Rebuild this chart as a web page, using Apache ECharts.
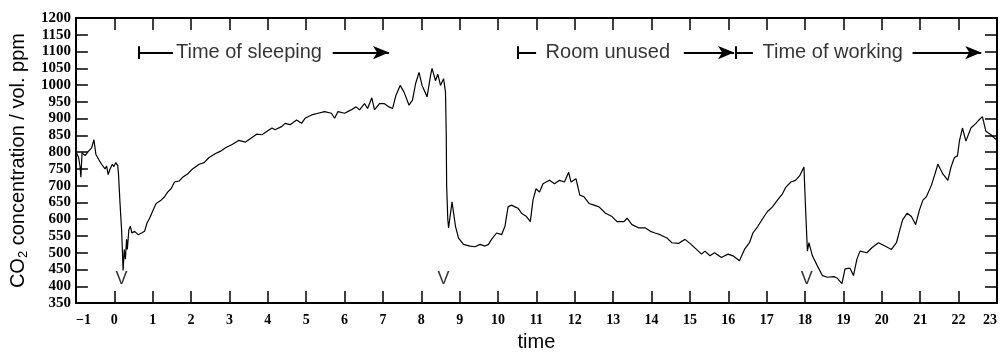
<!DOCTYPE html>
<html>
<head>
<meta charset="utf-8">
<script src="https://cdn.jsdelivr.net/npm/echarts@6/dist/echarts.min.js"></script>
<style>
html,body{margin:0;padding:0;background:#fff;}
#chart{width:1000px;height:357px;}
</style>
</head>
<body>
<div id="chart"></div>
<script>
// CO2 readings: [time (h), concentration (vol. ppm)]
const co2Readings = [
  [-0.99,800],[-0.93,784],[-0.89,755],[-0.87,725],[-0.84,798],[-0.76,790],[-0.67,803],[-0.59,813],[-0.53,837],
  [-0.48,794],[-0.41,779],[-0.33,764],[-0.24,750],[-0.20,759],[-0.16,733],[-0.11,750],[-0.05,764],[-0.01,757],
  [0.04,769],[0.09,760],[0.11,735],[0.15,647],[0.19,569],[0.21,510],[0.23,447],[0.26,510],[0.29,481],[0.32,540],
  [0.34,510],[0.38,569],[0.42,579],[0.46,559],[0.53,564],[0.62,554],[0.71,559],[0.79,564],[0.85,588],[0.92,603],
  [1.01,627],[1.09,647],[1.22,657],[1.31,667],[1.39,681],[1.48,691],[1.57,711],[1.69,714],[1.78,725],[1.91,735],
  [2.04,750],[2.21,764],[2.34,769],[2.47,784],[2.64,796],[2.77,803],[2.90,813],[3.07,823],[3.24,835],[3.42,830],
  [3.59,844],[3.72,854],[3.85,852],[3.98,862],[4.11,872],[4.19,867],[4.37,877],[4.45,886],[4.58,882],[4.75,896],
  [4.88,886],[4.97,901],[5.14,911],[5.31,916],[5.48,921],[5.66,916],[5.74,901],[5.83,921],[6.00,916],[6.17,926],
  [6.30,935],[6.39,926],[6.52,945],[6.60,930],[6.71,962],[6.78,926],[6.91,945],[7.03,945],[7.16,935],[7.25,930],
  [7.34,970],[7.45,999],[7.55,979],[7.68,940],[7.77,955],[7.85,1004],[7.94,1038],[8.02,999],[8.15,965],[8.24,1028],
  [8.28,1050],[8.37,1013],[8.43,1033],[8.50,999],[8.58,1019],[8.63,979],[8.65,850],[8.66,700],[8.69,600],[8.71,574],
  [8.80,652],[8.89,579],[8.97,544],[9.10,525],[9.27,520],[9.40,518],[9.53,525],[9.66,520],[9.75,525],[9.83,540],
  [9.96,559],[10.09,554],[10.18,579],[10.26,637],[10.35,642],[10.44,637],[10.52,633],[10.61,618],[10.74,608],[10.84,593],
  [10.91,657],[10.99,691],[11.08,681],[11.17,706],[11.34,716],[11.47,706],[11.60,716],[11.73,711],[11.84,740],[11.90,711],
  [12.03,721],[12.13,672],[12.24,667],[12.37,647],[12.50,642],[12.63,637],[12.80,618],[12.97,608],[13.10,593],[13.28,593],
  [13.36,603],[13.49,584],[13.67,574],[13.84,574],[13.97,564],[14.09,559],[14.22,554],[14.27,549],[14.40,544],[14.53,530],
  [14.70,528],[14.87,540],[15.00,528],[15.17,510],[15.30,496],[15.39,505],[15.52,491],[15.64,500],[15.82,486],[15.99,496],
  [16.12,491],[16.29,476],[16.42,510],[16.55,530],[16.64,559],[16.77,579],[16.90,603],[17.02,623],[17.15,637],[17.28,657],
  [17.41,676],[17.50,696],[17.63,711],[17.75,716],[17.86,730],[17.97,756],[18.01,637],[18.06,505],[18.10,530],[18.19,491],
  [18.32,461],[18.45,432],[18.58,427],[18.75,429],[18.83,425],[18.96,408],[19.04,452],[19.17,454],[19.26,432],[19.35,481],
  [19.43,505],[19.61,500],[19.74,515],[19.91,530],[20.08,520],[20.25,510],[20.38,530],[20.47,569],[20.54,598],[20.66,618],
  [20.77,608],[20.88,584],[20.98,628],[21.07,657],[21.16,667],[21.29,701],[21.37,730],[21.46,764],[21.59,735],[21.72,716],
  [21.80,755],[21.89,784],[21.97,789],[22.02,833],[22.10,872],[22.19,833],[22.32,872],[22.45,886],[22.53,896],[22.62,906],
  [22.71,862],[22.84,852],[22.97,838],[23.00,847]
];

// Ventilation marks "V"
const ventTimes = [0.19, 8.58, 18.04];
const ventLevel = 423;

// Phase annotations
const phaseLabels = ['Time of sleeping', 'Room unused', 'Time of working'];
const phaseStart = [0.65, 10.52, 16.20];
const phaseDashEnd = [1.53, 10.99, 16.64];
const phaseTextCenter = [3.51, 12.86, 18.72];
const phaseArrowStart = [5.69, 14.84, 20.80];
const phaseArrowEnd = [7.16, 16.15, 22.59];
const phaseLevel = 1097;
const phaseBarHalf = 19;

// Axis settings
const xMin = -1, xMax = 23, xStep = 1;
const yMin = 350, yMax = 1200, yStep = 50;

const serifBold = {color:'#000', fontFamily:'Liberation Serif', fontWeight:'bold'};
const axisLineStyle = {onZero:false, lineStyle:{color:'#000', width:2}};
const tickStyle = {inside:true, length:12, lineStyle:{color:'#000', width:1.5}};

const markLineData = [];
phaseStart.forEach((s, i) => {
  markLineData.push([{coord:[s, phaseLevel - phaseBarHalf]}, {coord:[s, phaseLevel + phaseBarHalf]}]);
  markLineData.push([{coord:[s, phaseLevel]}, {coord:[phaseDashEnd[i], phaseLevel]}]);
  markLineData.push([
    {coord:[phaseArrowStart[i], phaseLevel]},
    {coord:[phaseArrowEnd[i], phaseLevel], symbol:'arrow', symbolSize:[10,16]}
  ]);
});

const chart = echarts.init(document.getElementById('chart'), null, {renderer:'canvas'});
chart.setOption({
  animation:false,
  backgroundColor:'#fff',
  grid:{left:69, right:2, top:18, bottom:49, containLabel:false},
  xAxis:[{
    type:'value', min:xMin, max:xMax, interval:xStep, position:'bottom',
    axisLine:axisLineStyle, axisTick:tickStyle, splitLine:{show:false},
    axisLabel:Object.assign({fontSize:14, margin:10, alignMinLabel:'left', alignMaxLabel:'right',
      formatter:v => v < 0 ? '\u2212' + Math.abs(v) : String(v)}, serifBold),
    name:'time', nameLocation:'middle', nameGap:27,
    nameTextStyle:{color:'#000', fontFamily:'Liberation Sans', fontSize:20}
  },{
    type:'value', min:xMin, max:xMax, interval:xStep, position:'top',
    axisLine:axisLineStyle, axisTick:tickStyle, splitLine:{show:false}, axisLabel:{show:false}
  }],
  yAxis:[{
    type:'value', min:yMin, max:yMax, interval:yStep, position:'left',
    axisLine:axisLineStyle, axisTick:tickStyle, splitLine:{show:false},
    axisLabel:Object.assign({fontSize:15, margin:5, formatter:v => String(v)}, serifBold),
    name:'{a|CO}{s|2}{a| concentration / vol. ppm}', nameLocation:'middle', nameRotate:90, nameGap:40,
    nameTextStyle:{color:'#000', fontFamily:'Liberation Sans', fontSize:20, padding:[0,0,0,0],
      rich:{
        a:{color:'#000', fontFamily:'Liberation Sans', fontSize:20, lineHeight:24},
        s:{color:'#000', fontFamily:'Liberation Sans', fontSize:13, lineHeight:24, verticalAlign:'bottom'}
      }}
  },{
    type:'value', min:yMin, max:yMax, interval:yStep, position:'right',
    axisLine:axisLineStyle, axisTick:tickStyle, splitLine:{show:false}, axisLabel:{show:false}
  }],
  series:[{
    type:'line', data:co2Readings, showSymbol:false, symbol:'none',
    lineStyle:{color:'#000', width:1.2}, clip:true,
    markLine:{
      silent:true, symbol:['none','none'], label:{show:false},
      lineStyle:{color:'#000', width:2, type:'solid'},
      emphasis:{disabled:true},
      data:markLineData
    }
  },{
    type:'scatter', symbolSize:1, itemStyle:{color:'rgba(0,0,0,0)'},
    data:phaseTextCenter.map((t, i) => ({value:[t, phaseLevel], name:phaseLabels[i]})),
    label:{show:true, position:'inside', formatter:p => p.name, color:'#000',
      fontFamily:'Liberation Sans', fontSize:20}
  },{
    type:'scatter', symbolSize:1, itemStyle:{color:'rgba(0,0,0,0)'},
    data:ventTimes.map(t => [t, ventLevel]),
    label:{show:true, position:'inside', formatter:'V', color:'#000',
      fontFamily:'Liberation Sans', fontSize:18}
  }]
});
</script>
</body>
</html>
